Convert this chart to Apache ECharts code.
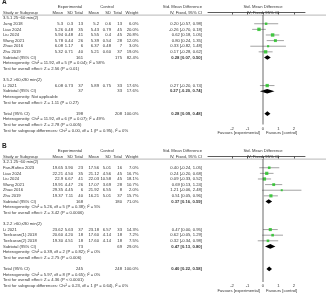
<!DOCTYPE html>
<html><head><meta charset="utf-8">
<script src="https://cdn.jsdelivr.net/npm/echarts@6/dist/echarts.min.js"></script>
<style>html,body{margin:0;padding:0;background:#fff}#c{width:328px;height:300px}</style>
</head><body><div id="c"></div><script>
// ---------- Panel A data ----------
const A1_label = '3.5.1 25~60 min(2)';
const A1_names = ['Jung 2018','Liao 2024','Liu 2024','Wang 2021','Zhao 2016','Zhu 2019'];
const A1_expMean = ['5.3','5.26','5.94','5.78','6.08','5.32'];
const A1_expSD = ['0.3','0.48','0.48','0.44','1.17','0.71'];
const A1_expN = ['13','35','41','26','6','40'];
const A1_ctlMean = ['5.2','5.43','5.55','5.39','6.37','5.21'];
const A1_ctlSD = ['0.6','0.79','0.4','0.54','0.48','0.60'];
const A1_ctlN = ['13','45','45','28','7','37'];
const A1_weight = [6.0, 20.0, 20.8, 12.0, 3.0, 19.0];
const A1_smd = [0.20, -0.26, 0.62, 0.80, 0.33, 0.17];
const A1_lo = [-0.57, -0.70, 0.18, 0.24, -0.82, -0.28];
const A1_hi = [0.98, 0.18, 1.05, 1.35, 1.48, 0.62];
const A1_sub = {expN:'161', ctlN:'175', weight:'82.4%', smd:0.28, lo:0.07, hi:0.50};
const A1_het = 'Heterogeneity: Chi\u00b2 = 11.92, df = 5 (P = 0.04); I\u00b2 = 58%';
const A1_test = 'Test for overall effect: Z = 2.56 (P = 0.01)';

const A2_label = '3.5.2 >60,\u226490 min(2)';
const A2_names = ['Li 2021'];
const A2_expMean = ['6.08'];
const A2_expSD = ['0.73'];
const A2_expN = ['37'];
const A2_ctlMean = ['5.89'];
const A2_ctlSD = ['0.75'];
const A2_ctlN = ['33'];
const A2_weight = [17.6];
const A2_smd = [0.27];
const A2_lo = [-0.20];
const A2_hi = [0.74];
const A2_sub = {expN:'37', ctlN:'33', weight:'17.6%', smd:0.27, lo:-0.20, hi:0.74};
const A2_het = 'Heterogeneity: Not applicable';
const A2_test = 'Test for overall effect: Z = 1.11 (P = 0.27)';

const A_total = {expN:'198', ctlN:'208', weight:'100.0%', smd:0.28, lo:0.09, hi:0.48};
const A_het = 'Heterogeneity: Chi\u00b2 = 11.92, df = 6 (P = 0.07); I\u00b2 = 49%';
const A_test = 'Test for overall effect: Z = 2.78 (P = 0.005)';
const A_diff = 'Test for subgroup differences: Chi\u00b2 = 0.00, df = 1 (P = 0.95), I\u00b2 = 0%';

// ---------- Panel B data ----------
const B1_label = '3.2.1 25~60 min(2)';
const B1_names = ['Fan-Rufino 2023','Liao 2024','Liu 2024','Wang 2021','Zhao 2016','Zhu 2019'];
const B1_expMean = ['19.65','22.21','22.9','19.91','29.35','19.37'];
const B1_expSD = ['3.90','4.50','6.67','4.47','4.45','7.11'];
const B1_expN = ['23','35','41','26','6','40'];
const B1_ctlMean = ['17.56','21.12','22.03','17.07','21.92','16.21'];
const B1_ctlSD = ['5.01','4.56','10.58','3.69','6.55','5.01'];
const B1_ctlN = ['16','45','45','28','8','37'];
const B1_weight = [7.0, 16.7, 18.1, 10.7, 2.0, 15.7];
const B1_smd = [0.40, 0.24, 0.09, 0.69, 1.21, 0.51];
const B1_lo = [-0.24, -0.20, -0.33, 0.13, -0.06, 0.05];
const B1_hi = [1.05, 0.68, 0.52, 1.24, 2.48, 0.96];
const B1_sub = {expN:'168', ctlN:'180', weight:'71.0%', smd:0.37, lo:0.16, hi:0.59};
const B1_het = 'Heterogeneity: Chi\u00b2 = 5.26, df = 5 (P = 0.38); I\u00b2 = 5%';
const B1_test = 'Test for overall effect: Z = 3.42 (P = 0.0006)';

const B2_label = '3.2.2 >60,\u226490 min(2)';
const B2_names = ['Li 2021','Toelcuran(1) 2018','Toelcuran(2) 2018'];
const B2_expMean = ['23.62','20.60','19.30'];
const B2_expSD = ['5.63','4.20','4.51'];
const B2_expN = ['37','18','18'];
const B2_ctlMean = ['23.18','17.60','17.60'];
const B2_ctlSD = ['6.57','4.14','4.14'];
const B2_ctlN = ['33','18','18'];
const B2_weight = [14.3, 7.2, 7.5];
const B2_smd = [0.47, 0.62, 0.32];
const B2_lo = [-0.00, -0.05, -0.34];
const B2_hi = [0.95, 1.29, 0.98];
const B2_sub = {expN:'73', ctlN:'69', weight:'29.0%', smd:0.47, lo:0.13, hi:0.80};
const B2_het = 'Heterogeneity: Chi\u00b2 = 0.39, df = 2 (P = 0.82); I\u00b2 = 0%';
const B2_test = 'Test for overall effect: Z = 2.75 (P = 0.006)';

const B_total = {expN:'245', ctlN:'248', weight:'100.0%', smd:0.40, lo:0.22, hi:0.58};
const B_het = 'Heterogeneity: Chi\u00b2 = 5.97, df = 8 (P = 0.65); I\u00b2 = 0%';
const B_test = 'Test for overall effect: Z = 4.36 (P < 0.0001)';
const B_diff = 'Test for subgroup differences: Chi\u00b2 = 0.23, df = 1 (P = 0.64), I\u00b2 = 0%';

const tickValues = [-2, -1, 0, 1, 2];
const favLeft = 'Favours [experimental]';
const favRight = 'Favours [control]';

// ---------- build ----------
function fmt(v){ return (v < 0 ? '-' : '') + Math.abs(v).toFixed(2); }
function ciText(s,l,h){ return fmt(s) + ' [' + fmt(l) + ', ' + fmt(h) + ']'; }

function sub(label,names,em,es,en,cm,cs,cn,w,s,l,h,st,het,test){
  return {label,names,em,es,en,cm,cs,cn,w,s,l,h,st,het,test};
}
const panels = [
  {letter:'A', subs:[
    sub(A1_label,A1_names,A1_expMean,A1_expSD,A1_expN,A1_ctlMean,A1_ctlSD,A1_ctlN,A1_weight,A1_smd,A1_lo,A1_hi,A1_sub,A1_het,A1_test),
    sub(A2_label,A2_names,A2_expMean,A2_expSD,A2_expN,A2_ctlMean,A2_ctlSD,A2_ctlN,A2_weight,A2_smd,A2_lo,A2_hi,A2_sub,A2_het,A2_test)],
   total:A_total, het:A_het, test:A_test, diff:A_diff},
  {letter:'B', subs:[
    sub(B1_label,B1_names,B1_expMean,B1_expSD,B1_expN,B1_ctlMean,B1_ctlSD,B1_ctlN,B1_weight,B1_smd,B1_lo,B1_hi,B1_sub,B1_het,B1_test),
    sub(B2_label,B2_names,B2_expMean,B2_expSD,B2_expN,B2_ctlMean,B2_ctlSD,B2_ctlN,B2_weight,B2_smd,B2_lo,B2_hi,B2_sub,B2_het,B2_test)],
   total:B_total, het:B_het, test:B_test, diff:B_diff}
];

const ROWH = 5.62;
const gridTops = [12.5, 156.5];
const axisYs = [124.5, 282];
const XMIN = -3.55, XMAX = 2.71;
const COL = {name:3, em:63, es:73, en:83, cm:99, cs:111, cn:122, w:138.5, ci:202, plot:263};

const grids = [], xAxes = [], yAxes = [], series = [];
const panelRows = [];
panels.forEach((p, gi) => {
  const ymax = (axisYs[gi] - gridTops[gi]) / ROWH;
  grids.push({left:208, right:328-305, top:gridTops[gi], height:axisYs[gi]-gridTops[gi]});
  xAxes.push({type:'value', gridIndex:gi, min:XMIN, max:XMAX,
    axisLine:{show:true, lineStyle:{color:'#333', width:0.8}},
    axisTick:{show:true, length:2, customValues:tickValues, lineStyle:{color:'#333', width:0.8}},
    axisLabel:{show:true, customValues:tickValues, fontSize:4.2, color:'#3a3a3a', margin:2,
      fontFamily:'Liberation Sans, Arial', formatter:v=>String(v)},
    splitLine:{show:false}});
  yAxes.push({type:'value', gridIndex:gi, min:0, max:ymax, inverse:true, show:false});
  const rows = []; let r = 1;
  const ci = [], sq = [], dia = [];
  p.subs.forEach(sg => {
    rows.push({r:r++, kind:'label', text:sg.label});
    sg.names.forEach((n,i) => {
      rows.push({r, kind:'study', cells:[n,sg.em[i],sg.es[i],sg.en[i],sg.cm[i],sg.cs[i],sg.cn[i],sg.w[i].toFixed(1)+'%',ciText(sg.s[i],sg.l[i],sg.h[i])]});
      ci.push([sg.l[i], sg.h[i], r]);
      sq.push([sg.s[i], r, sg.w[i]]);
      r++;
    });
    rows.push({r, kind:'sub', cells:['Subtotal (95% CI)','','',sg.st.expN,'','',sg.st.ctlN,sg.st.weight,ciText(sg.st.smd,sg.st.lo,sg.st.hi)]});
    dia.push([sg.st.lo, sg.st.smd, sg.st.hi, r]); r++;
    rows.push({r:r++, kind:'note', text:sg.het});
    rows.push({r:r++, kind:'note', text:sg.test});
    r++;
  });
  rows.push({r, kind:'sub', cells:['Total (95% CI)','','',p.total.expN,'','',p.total.ctlN,p.total.weight,ciText(p.total.smd,p.total.lo,p.total.hi)]});
  dia.push([p.total.lo, p.total.smd, p.total.hi, r]); r++;
  rows.push({r:r++, kind:'note', text:p.het});
  rows.push({r:r++, kind:'note', text:p.test});
  rows.push({r:r++, kind:'note', text:p.diff});
  panelRows.push(rows);

  series.push({type:'line', xAxisIndex:gi, yAxisIndex:gi, data:[[0,0.45],[0,ymax]], symbol:'none',
    lineStyle:{color:'#444', width:0.8}, silent:true, animation:false});
  series.push({type:'custom', xAxisIndex:gi, yAxisIndex:gi, data:ci, animation:false,
    renderItem:(params, api) => {
      const a = api.coord([api.value(0), api.value(2)]);
      const b = api.coord([api.value(1), api.value(2)]);
      return {type:'line', shape:{x1:a[0], y1:a[1], x2:b[0], y2:b[1]}, style:{stroke:'#999', lineWidth:0.9}};
    }});
  series.push({type:'scatter', xAxisIndex:gi, yAxisIndex:gi, data:sq, symbol:'rect', animation:false,
    symbolSize:v => 1.4 + Math.sqrt(v[2]) * 0.45, itemStyle:{color:'#1fc21f'}});
  series.push({type:'custom', xAxisIndex:gi, yAxisIndex:gi, data:dia, animation:false,
    renderItem:(params, api) => {
      const y = api.value(3);
      const L = api.coord([api.value(0), y]);
      const M = api.coord([api.value(1), y]);
      const R = api.coord([api.value(2), y]);
      const hh = 2.3;
      return {type:'polygon', shape:{points:[[L[0],L[1]],[M[0],M[1]-hh],[R[0],R[1]],[M[0],M[1]+hh]]},
        style:{fill:'#000'}};
    }});
});

const chart = echarts.init(document.getElementById('c'), null, {renderer:'canvas'});
chart.setOption({animation:false, grid:grids, xAxis:xAxes, yAxis:yAxes, series});

const FONT = 'Liberation Sans, Arial, sans-serif';
const FS = 4.2;
const g = [];
function txt(x, y, s, align, opts){
  g.push(Object.assign({type:'text', x, y, silent:true,
    style:Object.assign({text:s, fontSize:FS, fontFamily:FONT, fill:'#363636', align:align||'left', verticalAlign:'middle'}, opts||{})}));
}
panels.forEach((p, gi) => {
  const Y = r => chart.convertToPixel({gridIndex:gi}, [0, r])[1];
  const x0 = chart.convertToPixel({gridIndex:gi}, [0, 0])[0];
  txt(2, Y(-1.9), p.letter, 'left', {fontSize:6.5, fontWeight:'bold', fill:'#222'});
  txt(70, Y(-0.95), 'Experimental', 'center');
  txt(107, Y(-0.95), 'Control', 'center');
  txt(COL.ci, Y(-0.95), 'Std. Mean Difference', 'right');
  txt(x0, Y(-0.95), 'Std. Mean Difference', 'center');
  const h2 = ['Study or Subgroup','Mean','SD','Total','Mean','SD','Total','Weight','IV, Fixed, 95% CI'];
  const cx = [COL.name, COL.em, COL.es, COL.en, COL.cm, COL.cs, COL.cn, COL.w, COL.ci];
  h2.forEach((s,i) => txt(cx[i], Y(0), s, i === 0 ? 'left' : 'right'));
  txt(x0, Y(0), 'IV, Fixed, 95% CI', 'center');
  const ul = Y(0) + 2.6;
  g.push({type:'line', silent:true, shape:{x1:2, y1:ul, x2:326, y2:ul}, style:{stroke:'#999', lineWidth:0.7}});
  panelRows[gi].forEach(row => {
    const y = Y(row.r);
    if (row.kind === 'label' || row.kind === 'note') {
      txt(COL.name, y, row.text, 'left');
    } else {
      row.cells.forEach((s,i) => {
        if (s === '') return;
        const bold = row.kind === 'sub' && i === 8;
        txt(cx[i], y, s, i === 0 ? 'left' : 'right', bold ? {fontWeight:'bold'} : null);
      });
    }
  });
  const ay = axisYs[gi] + 8.5;
  txt(x0 - 3, ay, favLeft, 'right');
  txt(x0 + 3, ay, favRight, 'left');
});
chart.setOption({graphic:g});
</script></body></html>
